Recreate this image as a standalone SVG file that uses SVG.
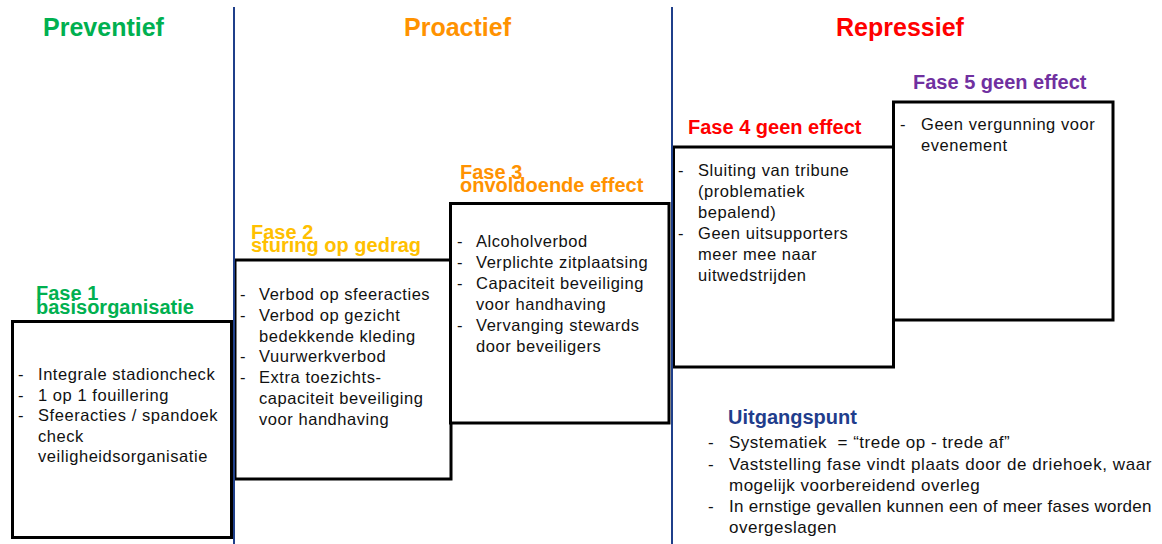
<svg xmlns="http://www.w3.org/2000/svg" width="1162" height="544" viewBox="0 0 1162 544">
  <style>
    .box { fill: #ffffff; stroke: #000000; stroke-width: 3; }
    .div { stroke: #1f3f8a; stroke-width: 2; fill: none; }
    .hdr { font-family: "Liberation Sans", Arial, sans-serif; font-weight: bold; font-size: 25px; text-anchor: middle; }
    .lbl { font-family: "Liberation Sans", Arial, sans-serif; font-weight: bold; font-size: 20px; }
    .txt { font-family: "Liberation Sans", Arial, sans-serif; font-size: 16.5px; letter-spacing: 0.55px; fill: #111111; }
    .btxt { font-family: "Liberation Sans", Arial, sans-serif; font-size: 17px; letter-spacing: 0.5px; fill: #111111; }
    .green { fill: #00b050; }
    .yellow { fill: #ffc000; }
    .orange { fill: #ff9200; }
    .red { fill: #ff0000; }
    .purple { fill: #7030a0; }
    .navy { fill: #1f3d8c; }
  </style>
  <rect width="1162" height="544" fill="#ffffff"/>

  <g id="headers">
    <text class="hdr green" x="103.5" y="36">Preventief</text>
    <text class="hdr orange" x="457.5" y="36">Proactief</text>
    <text class="hdr red" x="900" y="36">Repressief</text>
  </g>

  <g id="fase1">
    <text class="lbl green" x="36" y="300" font-size="19.5">Fase 1</text>
    <text class="lbl green" x="36" y="313.5" font-size="19.5">basisorganisatie</text>
    <rect class="box" x="12.5" y="321.5" width="219" height="216"/>
    <g class="txt">
      <text x="18" y="380">-</text><text x="38" y="380">Integrale stadioncheck</text>
      <text x="18" y="400.5">-</text><text x="38" y="400.5">1 op 1 fouillering</text>
      <text x="18" y="421">-</text><text x="38" y="421">Sfeeracties / spandoek</text>
      <text x="38" y="441.5">check</text>
      <text x="38" y="462">veiligheidsorganisatie</text>
    </g>
  </g>

  <g id="fase2">
    <text class="lbl yellow" x="251" y="239">Fase 2</text>
    <text class="lbl yellow" x="251" y="252">sturing op gedrag</text>
    <rect class="box" x="235" y="260" width="216" height="219"/>
    <g class="txt">
      <text x="240" y="300">-</text><text x="259" y="300">Verbod op sfeeracties</text>
      <text x="240" y="320.8">-</text><text x="259" y="320.8">Verbod op gezicht</text>
      <text x="259" y="341.6">bedekkende kleding</text>
      <text x="240" y="362.4">-</text><text x="259" y="362.4">Vuurwerkverbod</text>
      <text x="240" y="383.2">-</text><text x="259" y="383.2">Extra toezichts-</text>
      <text x="259" y="404">capaciteit beveiliging</text>
      <text x="259" y="424.8">voor handhaving</text>
    </g>
  </g>

  <g id="fase3">
    <text class="lbl orange" x="460" y="179">Fase 3</text>
    <text class="lbl orange" x="460" y="192">onvoldoende effect</text>
    <rect class="box" x="450.5" y="203.5" width="218.5" height="219.5"/>
    <g class="txt">
      <text x="457" y="247">-</text><text x="476" y="247">Alcoholverbod</text>
      <text x="457" y="268">-</text><text x="476" y="268">Verplichte zitplaatsing</text>
      <text x="457" y="289">-</text><text x="476" y="289">Capaciteit beveiliging</text>
      <text x="476" y="310">voor handhaving</text>
      <text x="457" y="331">-</text><text x="476" y="331">Vervanging stewards</text>
      <text x="476" y="352">door beveiligers</text>
    </g>
  </g>

  <g id="fase4">
    <text class="lbl red" x="688" y="134">Fase 4 geen effect</text>
    <rect class="box" x="673.5" y="147" width="220" height="220"/>
    <g class="txt">
      <text x="678" y="176">-</text><text x="698" y="176">Sluiting van tribune</text>
      <text x="698" y="197">(problematiek</text>
      <text x="698" y="218">bepalend)</text>
      <text x="678" y="239">-</text><text x="698" y="239">Geen uitsupporters</text>
      <text x="698" y="260">meer mee naar</text>
      <text x="698" y="281">uitwedstrijden</text>
    </g>
  </g>

  <g id="fase5">
    <text class="lbl purple" x="913" y="89">Fase 5 geen effect</text>
    <rect class="box" x="893.5" y="102" width="219.5" height="218"/>
    <g class="txt">
      <text x="900" y="130">-</text><text x="921" y="130">Geen vergunning voor</text>
      <text x="921" y="151">evenement</text>
    </g>
  </g>

  <g id="connectors">
    <line class="div" x1="234" y1="7" x2="234" y2="544"/>
    <line class="div" x1="672" y1="7" x2="672" y2="544"/>
  </g>

  <g id="uitgangspunt">
    <text class="lbl navy" x="728" y="424">Uitgangspunt</text>
    <g class="btxt">
      <text x="708" y="448">-</text><text x="729" y="448">Systematiek&#160; = “trede op - trede af”</text>
      <text x="708" y="469.5">-</text><text x="729" y="469.5" textLength="423" lengthAdjust="spacing">Vaststelling fase vindt plaats door de driehoek, waar</text>
      <text x="729" y="490.5">mogelijk voorbereidend overleg</text>
      <text x="708" y="511.5">-</text><text x="729" y="511.5" textLength="423" lengthAdjust="spacing">In ernstige gevallen kunnen een of meer fases worden</text>
      <text x="729" y="533">overgeslagen</text>
    </g>
  </g>
</svg>
